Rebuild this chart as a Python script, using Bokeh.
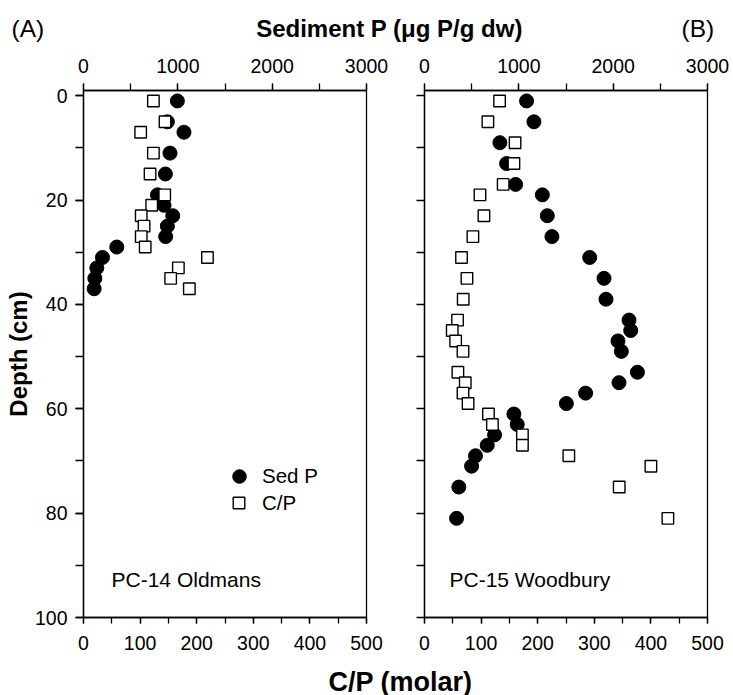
import math
from bokeh.plotting import figure
from bokeh.models import (Range1d, LinearAxis, FixedTicker, ColumnDataSource,
                          Legend, LegendItem, Label)
from bokeh.layouts import column, row
from bokeh.embed import file_html
from bokeh.resources import INLINE
from bokeh.core.properties import value

FONT = "Liberation Sans"

# ---------------- data ----------------
# Panel A: PC-14 Oldmans
a_depth_sedp = [1, 5, 7, 11, 15, 19, 21, 23, 25, 27, 29, 31, 33, 35, 37]
a_sedp = [995, 889, 1065, 917, 868, 784, 854, 946, 889, 871, 353, 201, 141, 120, 113]
a_depth_cp = [1, 5, 7, 11, 15, 19, 21, 23, 25, 27, 29, 31, 33, 35, 37]
a_cp = [123.5, 144, 101, 123.5, 117.6, 143.5, 120.5, 102, 107, 102, 109, 219, 167.6, 154, 187]

# Panel B: PC-15 Woodbury
b_depth_sedp = [1, 5, 9, 13, 17, 19, 23, 27, 31, 35, 39, 43, 45, 47, 49, 53, 55, 57, 59,
                61, 63, 65, 67, 69, 71, 75, 81]
b_sedp = [1082, 1160, 799, 870, 966, 1249, 1302, 1351, 1751, 1903, 1924, 2168, 2186, 2051,
          2087, 2257, 2062, 1708, 1504, 948, 983, 743, 665, 541, 499, 364, 340]
b_depth_cp = [1, 5, 9, 13, 17, 19, 23, 27, 31, 35, 39, 43, 45, 47, 49, 53, 55, 57, 59,
              61, 63, 65, 67, 69, 71, 75, 81]
b_cp = [132.6, 112, 160, 158, 139, 98, 105, 85.5, 65.4, 75, 68.4, 58.4, 49, 55, 68, 59, 72,
        68, 77, 113, 120, 173, 173, 255, 400, 344, 430]

sedp_ticks = [0, 1000, 2000, 3000]
sedp_minor = [0, 500, 1000, 1500, 2000, 2500, 3000]
cp_ticks = [0, 100, 200, 300, 400, 500]
cp_minor = [0, 50, 100, 150, 200, 250, 300, 350, 400, 450, 500]
depth_ticks = [0, 20, 40, 60, 80, 100]
depth_minor = [0, 10, 20, 30, 40, 50, 60, 70, 80, 90, 100]

site_labels = ["PC-14 Oldmans", "PC-15 Woodbury"]
series_labels = ["Sed P", "C/P"]
panel_letters = ["(A)", "(B)"]
top_title = "Sediment P (μg P/g dw)"
bottom_title = "C/P (molar)"
y_title = "Depth (cm)"

TOP_B, BOT_B = 44, 44
PANEL_H = TOP_B + 527 + BOT_B
INK = "black"


def style_axis(ax, ticks, minor, tick_out, standoff):
    ax.ticker = FixedTicker(ticks=ticks, minor_ticks=minor)
    ax.major_tick_out = tick_out
    ax.major_tick_in = 0
    ax.minor_tick_out = tick_out
    ax.minor_tick_in = 0
    ax.axis_line_color = INK
    ax.axis_line_width = 1.3
    ax.major_tick_line_color = INK
    ax.major_tick_line_width = 1.3
    ax.minor_tick_line_color = INK
    ax.minor_tick_line_width = 1.3
    ax.major_label_text_font = FONT
    ax.major_label_text_color = INK
    ax.major_label_text_font_size = "19.5px"
    ax.major_label_standoff = standoff


def one_item_legend(label, renderer, glyph, loc, standoff):
    leg = Legend(items=[LegendItem(label=label, renderers=[renderer])], location=loc)
    leg.glyph_width = glyph
    leg.glyph_height = glyph
    leg.label_height = glyph
    leg.spacing = 0
    leg.padding = 0
    leg.margin = 0
    leg.label_standoff = standoff
    leg.label_text_font = FONT
    leg.label_text_font_size = "20.5px"
    leg.label_text_color = INK
    leg.background_fill_alpha = 0
    leg.border_line_alpha = 0
    return leg


def panel(width, bl, br, d_sed, sed, d_cp, cp, site, site_x, show_ylabels, with_legend):
    p = figure(width=width, height=PANEL_H, output_backend="svg", toolbar_location=None,
               x_range=Range1d(0, 3000), y_range=Range1d(100, -1),
               x_axis_location="above",
               min_border_left=bl, min_border_right=br,
               min_border_top=TOP_B, min_border_bottom=BOT_B)
    p.background_fill_color = "white"
    p.border_fill_color = "white"
    p.outline_line_color = INK
    p.outline_line_width = 1.3
    p.grid.visible = False
    p.extra_x_ranges = {"cp": Range1d(0, 500)}
    cp_axis = LinearAxis(x_range_name="cp")
    p.add_layout(cp_axis, "below")

    style_axis(p.xaxis[0], sedp_ticks, sedp_minor, 7, 11)
    style_axis(cp_axis, cp_ticks, cp_minor, 6, 12)
    if show_ylabels:
        style_axis(p.yaxis[0], depth_ticks, depth_minor, 8, 8)
        ax = p.yaxis[0]
        ax.axis_label = y_title
        ax.axis_label_text_font = FONT
        ax.axis_label_text_font_style = "bold"
        ax.axis_label_text_font_size = "24px"
        ax.axis_label_text_color = INK
        ax.axis_label_standoff = 0
    else:
        # ticks only, no labels
        style_axis(p.yaxis[0], [], depth_minor, 8, 8)

    src_sed = ColumnDataSource(dict(x=sed, y=d_sed))
    src_cp = ColumnDataSource(dict(x=cp, y=d_cp))
    r1 = p.scatter("x", "y", source=src_sed, marker="circle", size=14,
                   fill_color=INK, line_color=INK, line_width=1)
    r2 = p.scatter("x", "y", source=src_cp, marker="square", size=11.5,
                   fill_color="white", line_color=INK, line_width=1.4,
                   x_range_name="cp")

    p.add_layout(Label(x=site_x, y=92.8, text=site, text_font=FONT,
                       text_font_size="21px", text_color=INK,
                       text_align="left", text_baseline="middle"))

    if with_legend:
        p.add_layout(one_item_legend(series_labels[0], r1, 34, (139, 124), 6))
        p.add_layout(one_item_legend(series_labels[1], r2, 29, (141, 100), 9))
    return p


fA = panel(395, 83, 29, a_depth_sedp, a_sedp, a_depth_cp, a_cp,
           site_labels[0], 297, True, True)
fB = panel(338, 29, 26, b_depth_sedp, b_sedp, b_depth_cp, b_cp,
           site_labels[1], 265, False, False)

TOP_H = 46
# top strip
ft = figure(width=733, height=TOP_H, output_backend="svg", toolbar_location=None,
            x_range=Range1d(0, 733), y_range=Range1d(0, TOP_H),
            x_axis_type=None, y_axis_type=None, min_border=0)
ft.outline_line_color = None
ft.grid.visible = False
ft.text(x=[11, 681], y=[TOP_H - 28] * 2, text=panel_letters, text_font=value(FONT),
        text_font_size="24.5px", text_color=INK, text_align="left", text_baseline="middle")
ft.text(x=[389], y=[TOP_H - 28], text=[top_title], text_font=value(FONT),
        text_font_style="bold", text_font_size="24px", text_color=INK,
        text_align="center", text_baseline="middle")

BOT_H = 695 - TOP_H - PANEL_H
# bottom strip
fb = figure(width=733, height=BOT_H, output_backend="svg", toolbar_location=None,
            x_range=Range1d(0, 733), y_range=Range1d(0, BOT_H),
            x_axis_type=None, y_axis_type=None, min_border=0)
fb.outline_line_color = None
fb.grid.visible = False
fb.text(x=[400], y=[14], text=[bottom_title], text_font=value(FONT), text_font_style="bold",
        text_font_size="27px", text_color=INK, text_align="center", text_baseline="middle")

layout = column(ft, row(fA, fB), fb)
open("out.html", "w").write(file_html(layout, INLINE))
